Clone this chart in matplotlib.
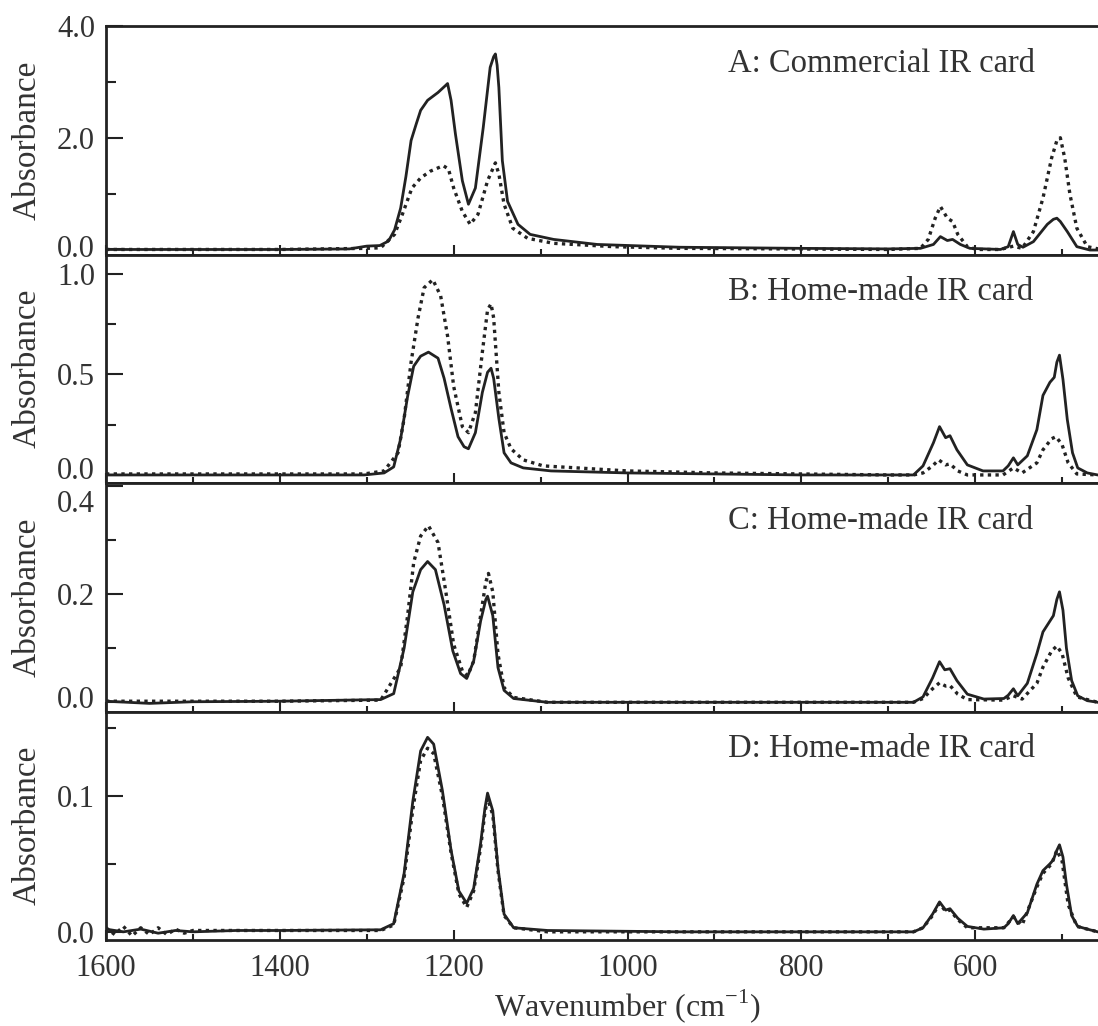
import matplotlib
matplotlib.use("Agg")
import matplotlib.pyplot as plt
from matplotlib.ticker import MultipleLocator, FixedLocator
from matplotlib.transforms import ScaledTranslation

plt.rcParams["font.family"] = ["Liberation Serif", "DejaVu Serif"]
plt.rcParams["mathtext.fontset"] = "custom"
plt.rcParams["mathtext.rm"] = "Liberation Serif"

INK = "#222222"

# ---- Panel A: commercial IR card ----
a_solid_wn = [1600, 1500, 1400, 1320, 1300, 1285, 1275, 1268, 1261, 1255, 1249, 1243,
              1238, 1230, 1218, 1209, 1207, 1203, 1198, 1190, 1183, 1175, 1166, 1158,
              1154, 1152, 1150, 1148, 1144, 1138, 1126, 1112, 1085, 1035, 940, 800, 700,
              663, 648, 640, 632, 626, 617, 606, 571, 562, 556, 551, 545, 533, 517, 510,
              506, 502, 494, 483, 468, 455]
a_solid_ab = [0.0, 0.0, 0.0, 0.01, 0.06, 0.07, 0.15, 0.35, 0.74, 1.3, 1.95, 2.25,
              2.49, 2.67, 2.81, 2.94, 2.97, 2.67, 2.07, 1.23, 0.81, 1.10, 2.18, 3.26,
              3.45, 3.5, 3.3, 2.9, 1.59, 0.86, 0.45, 0.27, 0.18, 0.09, 0.04, 0.02, 0.01,
              0.02, 0.09, 0.23, 0.16, 0.18, 0.09, 0.02, 0.0, 0.05, 0.32, 0.09, 0.04,
              0.14, 0.45, 0.54, 0.56, 0.50, 0.32, 0.05, -0.01, -0.01]
a_dot_wn = [1600, 1400, 1300, 1284, 1268, 1259, 1248, 1238, 1227, 1212, 1206, 1200,
            1190, 1181, 1172, 1161, 1152, 1148, 1142, 1132, 1115, 1085, 1016, 940, 700,
            663, 654, 646, 640, 632, 626, 620, 609, 598, 571, 556, 546, 533, 522, 512,
            506, 502, 497, 491, 483, 471, 455]
a_dot_ab = [0.0, 0.0, 0.02, 0.03, 0.27, 0.63, 1.10, 1.28, 1.40, 1.50, 1.44, 1.10,
            0.68, 0.45, 0.63, 1.23, 1.55, 1.35, 0.81, 0.38, 0.2, 0.11, 0.05, 0.02, 0.0,
            0.02, 0.18, 0.56, 0.77, 0.56, 0.50, 0.27, 0.05, 0.0, 0.0, 0.06, 0.02, 0.32,
            0.92, 1.64, 1.95, 2.0, 1.64, 0.99, 0.38, 0.05, 0.0]

# ---- Panel B: home-made IR card ----
b_solid_wn = [1600, 1400, 1303, 1280, 1269, 1261, 1253, 1246, 1238, 1229, 1218, 1211,
              1203, 1195, 1188, 1183, 1175, 1167, 1161, 1157, 1154, 1148, 1142, 1134,
              1120, 1088, 1000, 800, 671, 660, 648, 641, 634, 629, 621, 609, 591, 568,
              562, 556, 551, 540, 529, 522, 514, 509, 506, 503, 499, 494, 488, 482, 471,
              459]
b_solid_ab = [0.0, 0.0, 0.0, 0.01, 0.04, 0.18, 0.39, 0.54, 0.59, 0.61, 0.58, 0.48,
              0.33, 0.19, 0.14, 0.13, 0.21, 0.41, 0.51, 0.53, 0.48, 0.28, 0.11, 0.06,
              0.035, 0.02, 0.01, 0.0, 0.0, 0.045, 0.16, 0.24, 0.185, 0.195, 0.125, 0.05,
              0.02, 0.02, 0.045, 0.085, 0.05, 0.095, 0.225, 0.395, 0.46, 0.485, 0.56,
              0.595, 0.475, 0.275, 0.11, 0.035, 0.01, 0.0]
b_dot_wn = [1600, 1400, 1303, 1280, 1264, 1257, 1249, 1241, 1234, 1224, 1215, 1207,
            1200, 1190, 1183, 1175, 1167, 1161, 1157, 1154, 1148, 1142, 1134, 1120, 1097,
            1000, 900, 700, 671, 660, 649, 642, 634, 629, 620, 609, 568, 556, 546, 529,
            522, 512, 507, 500, 493, 483, 459]
b_dot_ab = [0.005, 0.005, 0.005, 0.02, 0.11, 0.28, 0.56, 0.78, 0.93, 0.97, 0.89, 0.69,
            0.44, 0.24, 0.21, 0.31, 0.61, 0.82, 0.85, 0.78, 0.41, 0.21, 0.13, 0.075,
            0.045, 0.02, 0.01, 0.0, 0.0, 0.01, 0.045, 0.075, 0.05, 0.055, 0.02, 0.0, 0.0,
            0.035, 0.01, 0.06, 0.125, 0.18, 0.19, 0.15, 0.06, 0.005, 0.0]

# ---- Panel C: home-made IR card ----
c_solid_wn = [1600, 1550, 1500, 1400, 1284, 1269, 1257, 1247, 1238, 1230, 1221, 1211,
              1201, 1192, 1185, 1177, 1169, 1163, 1161, 1155, 1149, 1142, 1131, 1092,
              939, 700, 671, 660, 649, 641, 635, 629, 621, 609, 590, 567, 562, 556, 551,
              540, 529, 522, 514, 510, 506, 503, 499, 495, 489, 482, 471, 459]
c_solid_ab = [0.002, -0.002, 0.001, 0.002, 0.005, 0.016, 0.10, 0.204, 0.245, 0.26,
              0.245, 0.18, 0.095, 0.053, 0.044, 0.076, 0.15, 0.19, 0.196, 0.16, 0.064,
              0.022, 0.007, 0.0, 0.0, 0.0, 0.0, 0.01, 0.045, 0.075, 0.06, 0.062, 0.04,
              0.015, 0.006, 0.007, 0.013, 0.025, 0.012, 0.035, 0.09, 0.13, 0.15, 0.16,
              0.19, 0.204, 0.17, 0.1, 0.04, 0.012, 0.003, 0.0]
c_dot_wn = [1600, 1400, 1284, 1261, 1253, 1246, 1238, 1229, 1218, 1209, 1200, 1190,
            1184, 1177, 1169, 1163, 1160, 1155, 1149, 1142, 1131, 1092, 700, 671, 660,
            649, 641, 634, 629, 620, 609, 568, 556, 546, 529, 522, 512, 506, 500, 493,
            483, 459]
c_dot_ab = [0.002, 0.002, 0.004, 0.064, 0.16, 0.258, 0.307, 0.326, 0.295, 0.204, 0.107,
            0.058, 0.049, 0.076, 0.16, 0.222, 0.238, 0.204, 0.089, 0.027, 0.009, 0.0,
            0.0, 0.0, 0.007, 0.025, 0.036, 0.03, 0.031, 0.015, 0.005, 0.004, 0.012, 0.006,
            0.035, 0.065, 0.095, 0.104, 0.09, 0.045, 0.01, 0.0]

# ---- Panel D: home-made IR card ----
d_solid_wn = [1600, 1580, 1560, 1540, 1520, 1500, 1450, 1400, 1284, 1269, 1257, 1247,
              1238, 1230, 1223, 1213, 1203, 1194, 1185, 1177, 1169, 1164, 1161, 1155,
              1149, 1142, 1131, 1092, 939, 700, 671, 660, 649, 641, 634, 629, 620, 609,
              590, 567, 562, 556, 551, 540, 529, 522, 514, 510, 506, 503, 499, 495, 489,
              482, 471, 459]
d_solid_ab = [0.002, 0.0, 0.002, -0.001, 0.001, 0.0, 0.001, 0.001, 0.0015, 0.006, 0.043,
              0.096, 0.133, 0.143, 0.138, 0.104, 0.06, 0.030, 0.021, 0.032, 0.065, 0.091,
              0.102, 0.089, 0.047, 0.013, 0.003, 0.001, 0.0, 0.0, 0.0, 0.003, 0.013,
              0.022, 0.016, 0.017, 0.01, 0.004, 0.002, 0.003, 0.006, 0.012, 0.006, 0.014,
              0.035, 0.045, 0.05, 0.053, 0.06, 0.064, 0.055, 0.035, 0.012, 0.004, 0.002,
              0.0]
d_dot_wn = [1600, 1590, 1580, 1570, 1560, 1550, 1540, 1530, 1520, 1510, 1500, 1450,
            1400, 1284, 1269, 1257, 1247, 1238, 1230, 1223, 1213, 1203, 1194, 1185,
            1177, 1169, 1164, 1161, 1155, 1149, 1142, 1131, 1092, 700, 671, 660, 649,
            641, 634, 629, 620, 609, 567, 556, 546, 529, 522, 512, 506, 500, 493, 483,
            459]
d_dot_ab = [0.003, -0.002, 0.004, -0.003, 0.003, -0.002, 0.003, -0.002, 0.002, -0.001,
            0.001, 0.001, 0.001, 0.001, 0.005, 0.04, 0.09, 0.126, 0.135, 0.131, 0.10,
            0.058, 0.028, 0.018, 0.03, 0.062, 0.088, 0.098, 0.086, 0.045, 0.012, 0.003,
            0.0, 0.0, 0.0, 0.003, 0.012, 0.021, 0.015, 0.016, 0.009, 0.003, 0.003, 0.011,
            0.005, 0.033, 0.043, 0.05, 0.06, 0.052, 0.02, 0.004, 0.0]

panels = [
    ("A: Commercial IR card", a_solid_wn, a_solid_ab, a_dot_wn, a_dot_ab),
    ("B: Home-made IR card", b_solid_wn, b_solid_ab, b_dot_wn, b_dot_ab),
    ("C: Home-made IR card", c_solid_wn, c_solid_ab, c_dot_wn, c_dot_ab),
    ("D: Home-made IR card", d_solid_wn, d_solid_ab, d_dot_wn, d_dot_ab),
]
y_limits = [(-0.09, 4.0), (-0.04, 1.095), (-0.017, 0.405), (-0.006, 0.162)]
y_major = [2.0, 0.5, 0.2, 0.1]
x_ticks = [1600, 1400, 1200, 1000, 800, 600]
x_minor = [1500, 1300, 1100, 900, 700, 500]

# small vertical nudges (pixels) of tick labels that would collide, as in the original
label_nudge = {(0, 0.0): 3, (1, 0.0): 7, (2, 0.4): -15, (2, 0.0): 5}

fig, axes = plt.subplots(4, 1, sharex=True, figsize=(10.98, 10.26), dpi=100,
                         gridspec_kw={"hspace": 0})
fig.subplots_adjust(left=106 / 1098, right=1149 / 1098, top=1 - 26 / 1026,
                    bottom=1 - 940 / 1026)

for i, ax in enumerate(axes):
    title, sw, sa, dw, da = panels[i]
    ax.plot(dw, da, color=INK, linestyle=(0, (1, 1.3)), linewidth=2.4)
    ax.plot(sw, sa, color=INK, linewidth=2.0)

    ax.set_ylim(*y_limits[i])
    ax.yaxis.set_major_locator(MultipleLocator(y_major[i]))
    ax.yaxis.set_minor_locator(MultipleLocator(y_major[i] / 2))
    ax.yaxis.set_major_formatter(plt.FuncFormatter(lambda v, p: "{:.1f}".format(0.0 if abs(v) < 1e-9 else v)))
    ax.xaxis.set_major_locator(FixedLocator(x_ticks))
    ax.xaxis.set_minor_locator(FixedLocator(x_minor))

    ax.tick_params(axis="both", which="both", direction="in", top=False, right=False,
                   width=1.5, colors=INK, labelsize=22, labelcolor="#333333")
    ax.tick_params(axis="y", which="major", length=12, pad=8)
    ax.tick_params(axis="y", which="minor", length=7)
    ax.tick_params(axis="x", which="major", length=7, pad=10)
    ax.tick_params(axis="x", which="minor", length=4)
    for side in ax.spines.values():
        side.set_linewidth(2.0)
        side.set_color(INK)

    ax.set_ylabel("Absorbance", fontsize=24, color="#333333", labelpad=10)
    ax.text(0.596, 0.835, title, transform=ax.transAxes, fontsize=23.5,
            color="#333333", ha="left", va="center")

axes[-1].set_xlim(1600, 400)
axes[-1].set_xlabel("Wavenumber (cm$^{\\mathregular{-1}}$)", fontsize=23,
                    color="#333333", labelpad=3)
fig.align_ylabels(axes)

fig.canvas.draw()
for i, ax in enumerate(axes):
    for tick in ax.yaxis.get_major_ticks():
        for (k, val), dy in label_nudge.items():
            if k == i and abs(tick.get_loc() - val) < 1e-6:
                tick.label1.set_transform(tick.label1.get_transform()
                                          + ScaledTranslation(0, dy / 100, fig.dpi_scale_trans))

plt.savefig("out.png", dpi=100)
